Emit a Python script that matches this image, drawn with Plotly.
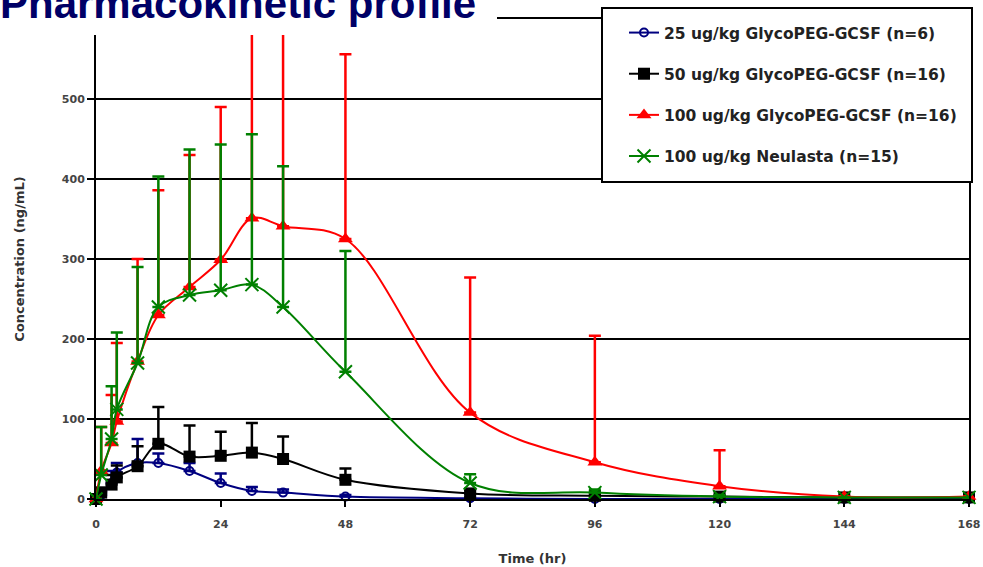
import plotly.graph_objects as go

# ---- data ----
times = [0, 1, 3, 4, 8, 12, 18, 24, 30, 36, 48, 72, 96, 120, 144, 168]

names = [
    "25 ug/kg GlycoPEG-GCSF (n=6)",
    "50 ug/kg GlycoPEG-GCSF (n=16)",
    "100 ug/kg GlycoPEG-GCSF (n=16)",
    "100 ug/kg Neulasta (n=15)",
]

conc_25 = [0, 5, 20, 33, 45, 45, 35, 20, 10, 8, 3, 1, 0, 0, 0, 0]
sd_25 = [0, 5, 15, 12, 30, 12, 10, 12, 5, 4, 2, 1, 0, 0, 0, 0]

conc_50 = [0, 8, 18, 27, 41, 69, 53, 54, 58, 50, 24, 7, 4, 3, 2, 2]
sd_50 = [0, 6, 12, 15, 25, 46, 39, 30, 37, 28, 14, 4, 2, 1, 0, 0]

conc_100 = [0, 35, 70, 97, 172, 230, 265, 299, 351, 341, 325, 108, 46, 16, 3, 3]
sd_100 = [0, 55, 60, 98, 128, 156, 165, 191, 249, 259, 231, 169, 158, 45, 0, 0]

conc_neu = [0, 30, 75, 112, 170, 240, 255, 261, 268, 240, 159, 20, 8, 3, 2, 2]
sd_neu = [0, 60, 66, 96, 120, 163, 182, 182, 188, 176, 151, 11, 4, 2, 0, 0]

x_ticks = [0, 24, 48, 72, 96, 120, 144, 168]
y_ticks = [0, 100, 200, 300, 400, 500]

series = [
    (names[0], conc_25, sd_25, "#000080",
     dict(symbol="circle-open", size=8, line=dict(width=2, color="#000080"))),
    (names[1], conc_50, sd_50, "#000000",
     dict(symbol="square", size=12, color="#000000")),
    (names[2], conc_100, sd_100, "#FF0000",
     dict(symbol="triangle-up", size=13, color="#FF0000")),
    (names[3], conc_neu, sd_neu, "#008000",
     dict(symbol="x-thin-open", size=13, line=dict(width=2, color="#008000"))),
]

fig = go.Figure()
for i, (nm, yv, sd, col, mk) in enumerate(series):
    fig.add_trace(go.Scatter(
        x=times, y=yv, name=nm, mode="lines+markers",
        line=dict(color=col, width=2, shape="spline", smoothing=1),
        marker=mk,
        error_y=dict(type="data", symmetric=False, array=sd,
                     arrayminus=[0] * len(sd), color=col,
                     thickness=2.5, width=6),
        cliponaxis=False,
        legendgroup=f"g{i}",
    ))

W, H = 983, 567
L, R, T, B = 96, 14, 19, 68
pw, ph = W - L - R, H - T - B


def px(xp):
    return (xp - L) / pw


def py(yp):
    return (H - B - yp) / ph


fig.update_layout(
    width=W, height=H,
    margin=dict(l=L, r=R, t=T, b=B, autoexpand=False),
    paper_bgcolor="white", plot_bgcolor="white",
    font=dict(family="DejaVu Sans", size=11, color="#333"),
    showlegend=True,
    legend=dict(
        x=px(624), y=py(16), xanchor="left", yanchor="top",
        bgcolor="rgba(0,0,0,0)", borderwidth=0,
        font=dict(family="DejaVu Sans", size=15.5, color="#222", weight="bold"),
        tracegroupgap=18,
    ),
    xaxis=dict(
        range=[0, 168], tickvals=x_ticks, showgrid=False, zeroline=False,
        showline=True, linecolor="black", linewidth=2, mirror=True,
        ticks="outside", ticklen=6, tickwidth=2, tickcolor="black",
        tickfont=dict(family="DejaVu Sans", size=11, color="#444", weight="bold"),
        ticklabelstandoff=8,
        title=dict(text="Time (hr)", standoff=24,
                   font=dict(family="DejaVu Sans", size=13, color="#333", weight="bold")),
    ),
    yaxis=dict(
        range=[0, 600], tickvals=y_ticks, showgrid=True, gridcolor="black",
        gridwidth=2, zeroline=False,
        showline=True, linecolor="black", linewidth=2, mirror=True,
        ticks="outside", ticklen=7, tickwidth=2, tickcolor="black",
        tickfont=dict(family="DejaVu Sans", size=11, color="#444", weight="bold"),
        title=dict(text="Concentration (ng/mL)", standoff=34,
                   font=dict(family="DejaVu Sans", size=13, color="#333", weight="bold")),
    ),
    shapes=[
        dict(type="rect", xref="paper", yref="paper", layer="above",
             x0=px(-5), x1=px(497), y0=py(35), y1=py(-5),
             fillcolor="white", line=dict(width=0)),
        dict(type="rect", xref="paper", yref="paper", layer="above",
             x0=px(602), x1=px(972), y0=py(182), y1=py(8),
             fillcolor="white", line=dict(color="black", width=2)),
    ],
    annotations=[
        dict(text="<b>Pharmacokinetic profile</b>", xref="paper", yref="paper",
             x=px(-2), y=py(29), xanchor="left", yanchor="bottom",
             showarrow=False,
             font=dict(family="Liberation Sans", size=42, color="#000066")),
    ],
)

fig.write_html("out.html")
